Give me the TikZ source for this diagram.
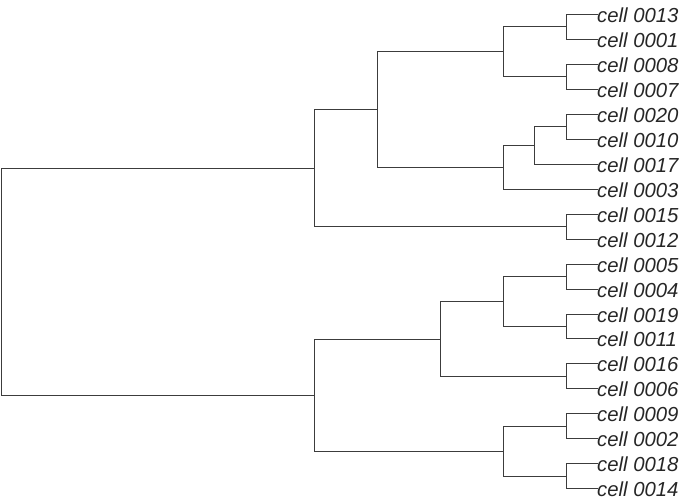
\documentclass[tikz,border=0pt]{standalone}
\usepackage{fontspec}
\setmainfont{Liberation Sans}
\definecolor{linec}{RGB}{60,60,60}
\definecolor{textc}{RGB}{38,38,38}
\begin{document}
\begin{tikzpicture}[x=1pt,y=-1pt,
  leaf/.style={anchor=west,inner sep=0pt,text height=16.5pt,text depth=0pt,
    font=\fontsize{20.3}{24}\selectfont\itshape,text=textc},
  branch/.style={draw=linec,line width=1.2pt,line cap=rect}]
\useasboundingbox (0,0) rectangle (685,500);
% leaves
\node[leaf] (l0)  at (597,14.5)  {cell 0013};
\node[leaf] (l1)  at (597,39.5)  {cell 0001};
\node[leaf] (l2)  at (597,64.5)  {cell 0008};
\node[leaf] (l3)  at (597,89.5)  {cell 0007};
\node[leaf] (l4)  at (597,114.5) {cell 0020};
\node[leaf] (l5)  at (597,139.5) {cell 0010};
\node[leaf] (l6)  at (597,164.5) {cell 0017};
\node[leaf] (l7)  at (597,189.5) {cell 0003};
\node[leaf] (l8)  at (597,214.5) {cell 0015};
\node[leaf] (l9)  at (597,239.5) {cell 0012};
\node[leaf] (l10) at (597,264.5) {cell 0005};
\node[leaf] (l11) at (597,289.5) {cell 0004};
\node[leaf] (l12) at (597,314.5) {cell 0019};
\node[leaf] (l13) at (597,338.5) {cell 0011};
\node[leaf] (l14) at (597,363.5) {cell 0016};
\node[leaf] (l15) at (597,388.5) {cell 0006};
\node[leaf] (l16) at (597,413.5) {cell 0009};
\node[leaf] (l17) at (597,438.5) {cell 0002};
\node[leaf] (l18) at (597,463.5) {cell 0018};
\node[leaf] (l19) at (597,488.5) {cell 0014};
% internal nodes
\coordinate (a1) at (566.5,26.5);
\coordinate (a2) at (566.5,76.5);
\coordinate (b1) at (503.5,51.5);
\coordinate (a3) at (566.5,126.5);
\coordinate (c1) at (534.5,145.5);
\coordinate (c2) at (503.5,167.5);
\coordinate (d1) at (377.5,109.5);
\coordinate (a4) at (566.5,226.5);
\coordinate (e1) at (314.5,168.5);
\coordinate (a5) at (566.5,276.5);
\coordinate (a6) at (566.5,326.5);
\coordinate (f1) at (503.5,301.5);
\coordinate (a7) at (566.5,376.5);
\coordinate (g1) at (440.5,339.5);
\coordinate (a8) at (566.5,426.5);
\coordinate (a9) at (566.5,476.5);
\coordinate (h1) at (503.5,451.5);
\coordinate (k1) at (314.5,395.5);
\coordinate (root) at (1.5,282);
% branches
\draw[branch] (a1) |- (l0);  \draw[branch] (a1) |- (l1);
\draw[branch] (a2) |- (l2);  \draw[branch] (a2) |- (l3);
\draw[branch] (b1) |- (a1);  \draw[branch] (b1) |- (a2);
\draw[branch] (a3) |- (l4);  \draw[branch] (a3) |- (l5);
\draw[branch] (c1) |- (a3);  \draw[branch] (c1) |- (l6);
\draw[branch] (c2) |- (c1);  \draw[branch] (c2) |- (l7);
\draw[branch] (d1) |- (b1);  \draw[branch] (d1) |- (c2);
\draw[branch] (a4) |- (l8);  \draw[branch] (a4) |- (l9);
\draw[branch] (e1) |- (d1);  \draw[branch] (e1) |- (a4);
\draw[branch] (a5) |- (l10); \draw[branch] (a5) |- (l11);
\draw[branch] (a6) |- (l12); \draw[branch] (a6) |- (l13);
\draw[branch] (f1) |- (a5);  \draw[branch] (f1) |- (a6);
\draw[branch] (a7) |- (l14); \draw[branch] (a7) |- (l15);
\draw[branch] (g1) |- (f1);  \draw[branch] (g1) |- (a7);
\draw[branch] (a8) |- (l16); \draw[branch] (a8) |- (l17);
\draw[branch] (a9) |- (l18); \draw[branch] (a9) |- (l19);
\draw[branch] (h1) |- (a8);  \draw[branch] (h1) |- (a9);
\draw[branch] (k1) |- (g1);  \draw[branch] (k1) |- (h1);
\draw[branch] (root) |- (e1); \draw[branch] (root) |- (k1);
\end{tikzpicture}
\end{document}
